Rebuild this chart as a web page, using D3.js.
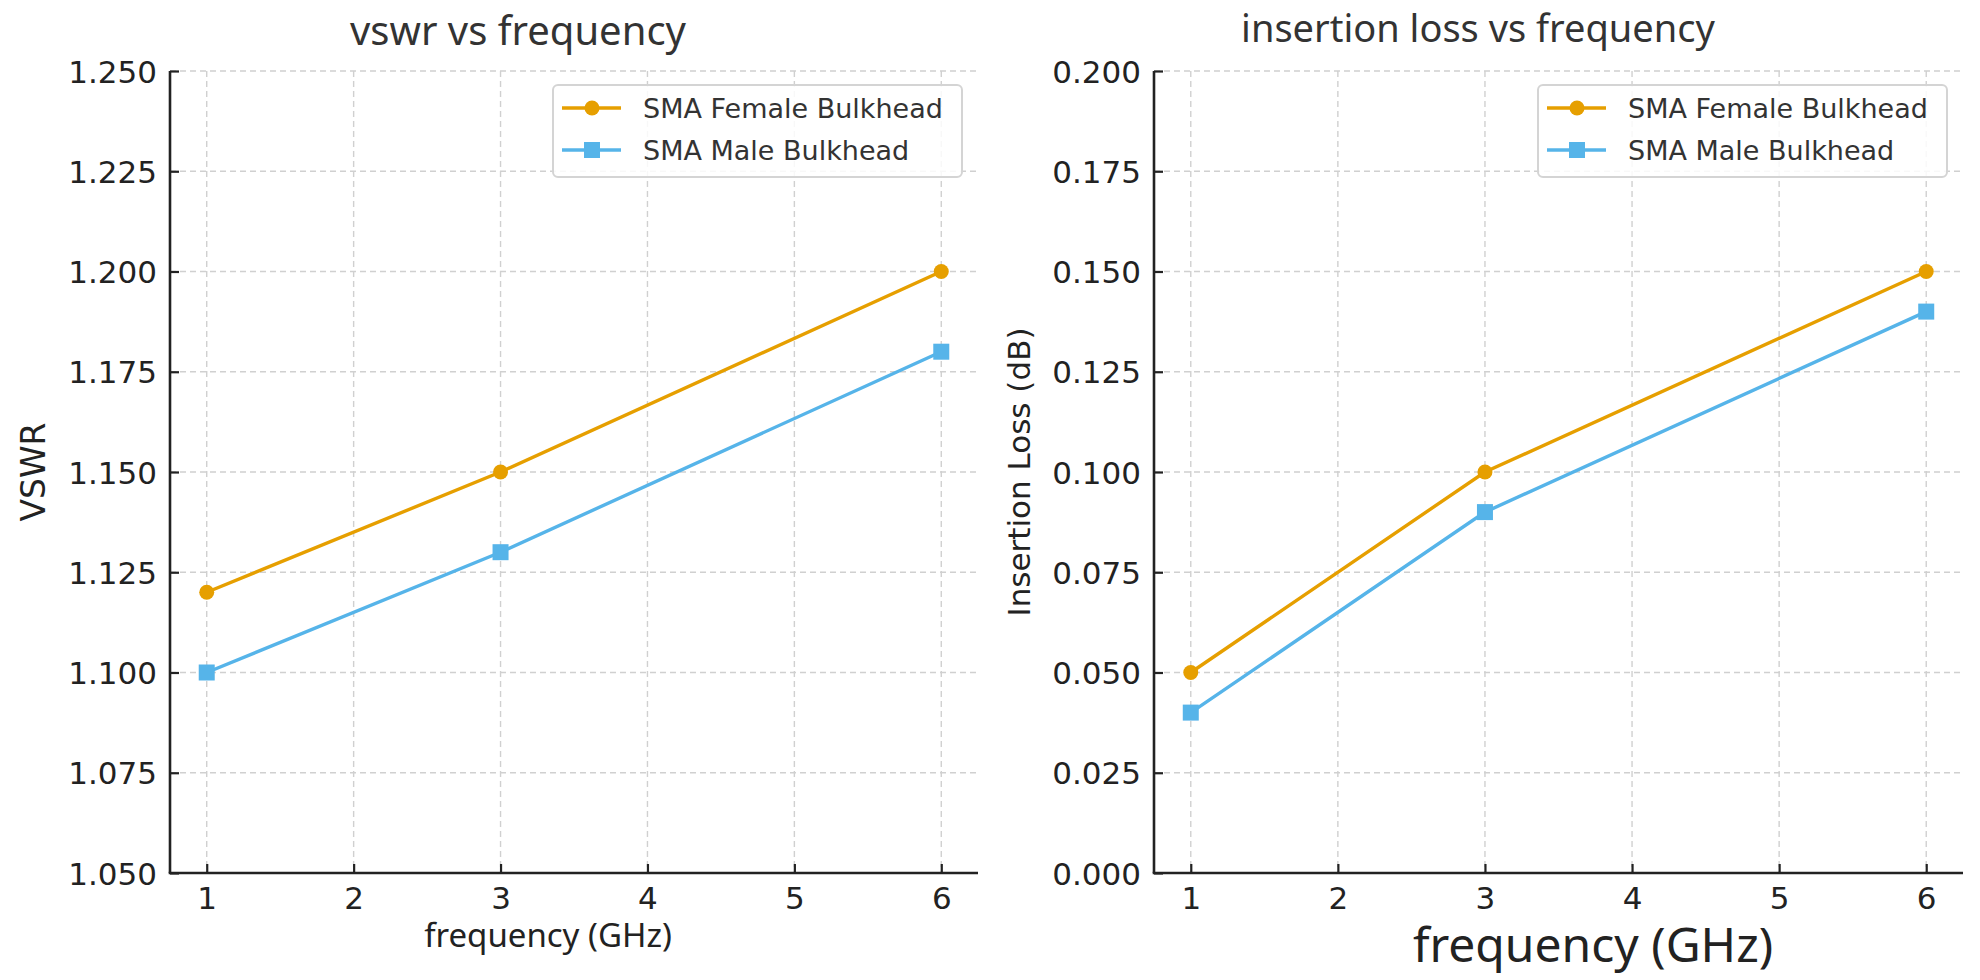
<!DOCTYPE html>
<html>
<head>
<meta charset="utf-8">
<script src="https://cdn.jsdelivr.net/npm/d3@7"></script>
<style>
  body { margin: 0; background: #fff; }
  svg { display: block; }
</style>
</head>
<body>
<div id="chart"></div>
<script>
// data
let freqs = [1, 3, 6]
let seriesNames = ["SMA Female Bulkhead", "SMA Male Bulkhead"]
let vswrFemale = [1.12, 1.15, 1.20]
let vswrMale = [1.10, 1.13, 1.18]
let lossFemale = [0.05, 0.10, 0.15]
let lossMale = [0.04, 0.09, 0.14]
let xTicks = [1, 2, 3, 4, 5, 6]
let vswrTicks = [1.050, 1.075, 1.100, 1.125, 1.150, 1.175, 1.200, 1.225, 1.250]
let lossTicks = [0.000, 0.025, 0.050, 0.075, 0.100, 0.125, 0.150, 0.175, 0.200]

let colors = ["#E69F00", "#56B4E9"]
let W = 1980, H = 980

let svg = d3.select("#chart").append("svg")
    .attr("width", W)
    .attr("height", H)

function drawPanel(p){
    let g = svg.append("g")
    let x = d3.scaleLinear().domain([0.75, 6.25]).range([p.left, p.right])
    let y = d3.scaleLinear().domain(p.ydomain).range([p.bottom, p.top])

    // grid
    g.append("g").selectAll("line.vg").data(xTicks).join("line")
        .attr("x1", d => x(d)).attr("x2", d => x(d))
        .attr("y1", p.top).attr("y2", p.bottom)
        .style("stroke", "#d0d0d0").style("stroke-width", 1.4)
        .style("stroke-dasharray", "6,4")
    g.append("g").selectAll("line.hg").data(p.yticks).join("line")
        .attr("x1", p.left).attr("x2", p.right)
        .attr("y1", d => y(d)).attr("y2", d => y(d))
        .style("stroke", "#d0d0d0").style("stroke-width", 1.4)
        .style("stroke-dasharray", "6,4")

    // axes, ticks pointing inward
    let xa = g.append("g")
        .attr("transform", "translate(0," + p.bottom + ")")
        .call(d3.axisBottom(x).tickValues(xTicks).tickSizeInner(-9).tickSizeOuter(0).tickPadding(14).tickFormat(d3.format("d")))
    let ya = g.append("g")
        .attr("transform", "translate(" + p.left + ",0)")
        .call(d3.axisLeft(y).tickValues(p.yticks).tickSizeInner(-9).tickSizeOuter(0).tickPadding(13).tickFormat(d3.format(".3f")))
    for (let a of [xa, ya]) {
        a.select(".domain").style("stroke", "#222").style("stroke-width", 2.6)
        a.selectAll(".tick line").style("stroke", "#222").style("stroke-width", 2.2)
        a.selectAll(".tick text")
            .style("font-family", "DejaVu Sans")
            .style("font-size", "31px")
            .style("fill", "#222")
    }
    // close the corner like matplotlib spines
    ya.select(".domain").attr("d", "M0," + p.top + "V" + p.bottom)
    xa.select(".domain").attr("d", "M" + (p.left - 1.3) + ",0H" + p.right)
    xa.selectAll(".tick text").attr("dy", "0.71em")
    ya.selectAll(".tick text").attr("dy", "0.36em")

    // lines + markers
    let line = d3.line().x((d, i) => x(freqs[i])).y(d => y(d))
    p.series.forEach((s, k) => {
        g.append("path")
            .attr("d", line(s))
            .style("fill", "none")
            .style("stroke", colors[k])
            .style("stroke-width", 3.4)
        if (k == 0) {
            g.selectAll(null).data(s).join("circle")
                .attr("cx", (d, i) => x(freqs[i])).attr("cy", d => y(d))
                .attr("r", 7.5).style("fill", colors[k])
        } else {
            g.selectAll(null).data(s).join("rect")
                .attr("x", (d, i) => x(freqs[i]) - 8).attr("y", d => y(d) - 8)
                .attr("width", 16).attr("height", 16).style("fill", colors[k])
        }
    })

    // titles and labels
    g.append("text")
        .attr("x", p.titleX).attr("y", p.titleY)
        .attr("text-anchor", "middle")
        .style("font-family", "Noto Sans").style("font-size", p.titleSize + "px")
        .style("fill", "#333")
        .text(p.title)
    g.append("text")
        .attr("x", p.xlabX).attr("y", p.xlabY)
        .attr("text-anchor", "middle")
        .style("font-family", "Noto Sans").style("font-size", p.xlabSize + "px")
        .style("fill", "#222")
        .text("frequency (GHz)")
    g.append("text")
        .attr("transform", "translate(" + p.ylabX + "," + (p.top + p.bottom) / 2 + ") rotate(-90)")
        .attr("text-anchor", "middle")
        .attr("dominant-baseline", "central")
        .style("font-family", "DejaVu Sans").style("font-size", p.ylabSize + "px")
        .style("fill", "#222")
        .text(p.ylabel)

    // legend
    let lx = p.right - 16 - 409, ly = p.top + 14
    let lg = g.append("g").attr("transform", "translate(" + lx + "," + ly + ")")
    lg.append("rect")
        .attr("width", 409).attr("height", 92)
        .attr("rx", 5).attr("ry", 5)
        .style("fill", "rgba(255,255,255,0.85)")
        .style("stroke", "#d4d4d4").style("stroke-width", 2)
    seriesNames.forEach((n, k) => {
        let cy = 23 + k * 42
        lg.append("line")
            .attr("x1", 9).attr("x2", 68).attr("y1", cy).attr("y2", cy)
            .style("stroke", colors[k]).style("stroke-width", 3.4)
        if (k == 0) lg.append("circle").attr("cx", 39).attr("cy", cy).attr("r", 7.5).style("fill", colors[k])
        else lg.append("rect").attr("x", 31).attr("y", cy - 8).attr("width", 16).attr("height", 16).style("fill", colors[k])
        lg.append("text")
            .attr("x", 90).attr("y", cy)
            .attr("dominant-baseline", "central")
            .style("font-family", "DejaVu Sans").style("font-size", "27px")
            .style("fill", "#333")
            .text(n)
    })
}

drawPanel({
    left: 170, right: 978, top: 71, bottom: 873,
    ydomain: [1.05, 1.25], yticks: vswrTicks,
    series: [vswrFemale, vswrMale],
    title: "vswr vs frequency", titleX: 518, titleY: 45, titleSize: 40,
    xlabX: 548, xlabY: 947, xlabSize: 33,
    ylabel: "VSWR", ylabX: 33, ylabSize: 33
})
drawPanel({
    left: 1154, right: 1963, top: 71, bottom: 873,
    ydomain: [0, 0.2], yticks: lossTicks,
    series: [lossFemale, lossMale],
    title: "insertion loss vs frequency", titleX: 1478, titleY: 42, titleSize: 38,
    xlabX: 1593, xlabY: 962, xlabSize: 48,
    ylabel: "Insertion Loss (dB)", ylabX: 1019, ylabSize: 31
})
</script>
</body>
</html>
